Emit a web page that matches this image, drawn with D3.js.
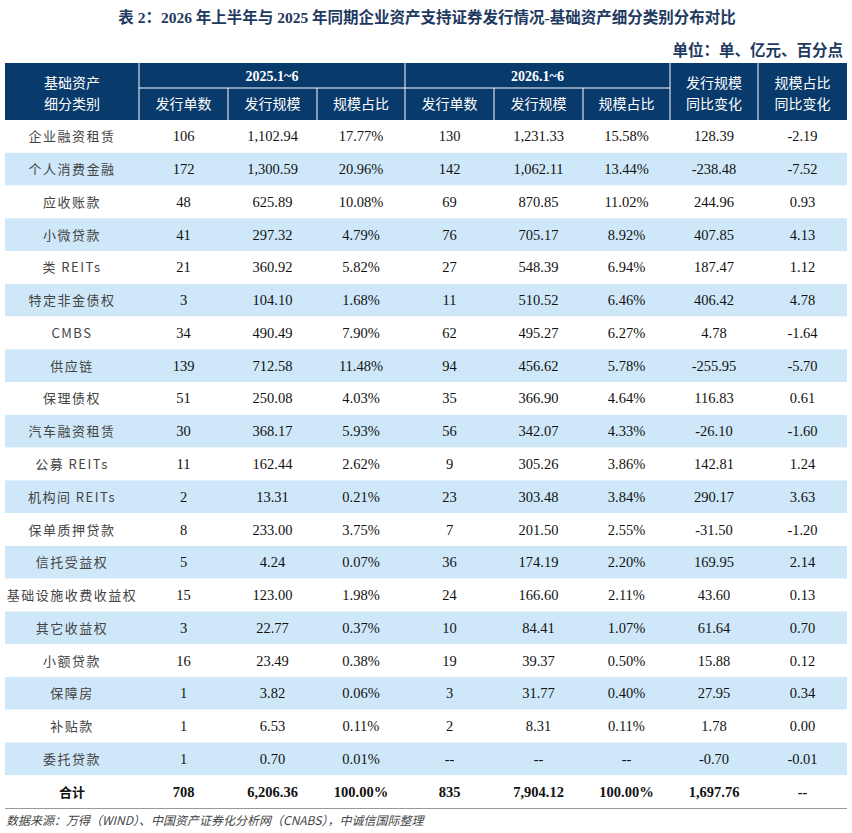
<!DOCTYPE html>
<html>
<head>
<meta charset="utf-8">
<script src="https://cdn.jsdelivr.net/npm/d3@7/dist/d3.min.js"></script>
<style>
  body { margin: 0; background: #fff; }
  text { font-family: "Liberation Serif", "Noto Sans CJK SC", serif; }
  .cjk { font-family: "Noto Sans CJK SC", sans-serif; }
</style>
</head>
<body>
<div id="chart"></div>
<script>
var categories = ["企业融资租赁", "个人消费金融", "应收账款", "小微贷款", "类 REITs", "特定非金债权",
    "CMBS", "供应链", "保理债权", "汽车融资租赁", "公募 REITs", "机构间 REITs", "保单质押贷款",
    "信托受益权", "基础设施收费收益权", "其它收益权", "小额贷款", "保障房", "补贴款", "委托贷款"];

var count2025 = ["106", "172", "48", "41", "21", "3", "34", "139", "51", "30", "11", "2", "8", "5", "15", "3", "16", "1", "1", "1"];
var scale2025 = ["1,102.94", "1,300.59", "625.89", "297.32", "360.92", "104.10", "490.49", "712.58", "250.08", "368.17",
    "162.44", "13.31", "233.00", "4.24", "123.00", "22.77", "23.49", "3.82", "6.53", "0.70"];
var share2025 = ["17.77%", "20.96%", "10.08%", "4.79%", "5.82%", "1.68%", "7.90%", "11.48%", "4.03%", "5.93%",
    "2.62%", "0.21%", "3.75%", "0.07%", "1.98%", "0.37%", "0.38%", "0.06%", "0.11%", "0.01%"];

var count2026 = ["130", "142", "69", "76", "27", "11", "62", "94", "35", "56", "9", "23", "7", "36", "24", "10", "19", "3", "2", "--"];
var scale2026 = ["1,231.33", "1,062.11", "870.85", "705.17", "548.39", "510.52", "495.27", "456.62", "366.90", "342.07",
    "305.26", "303.48", "201.50", "174.19", "166.60", "84.41", "39.37", "31.77", "8.31", "--"];
var share2026 = ["15.58%", "13.44%", "11.02%", "8.92%", "6.94%", "6.46%", "6.27%", "5.78%", "4.64%", "4.33%",
    "3.86%", "3.84%", "2.55%", "2.20%", "2.11%", "1.07%", "0.50%", "0.40%", "0.11%", "--"];

var scaleChange = ["128.39", "-238.48", "244.96", "407.85", "187.47", "406.42", "4.78", "-255.95", "116.83", "-26.10",
    "142.81", "290.17", "-31.50", "169.95", "43.60", "61.64", "15.88", "27.95", "1.78", "-0.70"];
var shareChange = ["-2.19", "-7.52", "0.93", "4.13", "1.12", "4.78", "-1.64", "-5.70", "0.61", "-1.60",
    "1.24", "3.63", "-1.20", "2.14", "0.13", "0.70", "0.12", "0.34", "0.00", "-0.01"];

var totalRow = ["合计", "708", "6,206.36", "100.00%", "835", "7,904.12", "100.00%", "1,697.76", "--"];

var periods = ["2025.1~6", "2026.1~6"];
var subHeaders = ["发行单数", "发行规模", "规模占比"];

var width = 852, height = 833;
var navy = "#083a6b", stripe = "#cfe8f9";

// column edges
var colEdges = [5, 139, 228, 317, 405, 494, 583, 670, 758, 847];

var rows = categories.map(function(c, i) {
    return [c, count2025[i], scale2025[i], share2025[i], count2026[i], scale2026[i], share2026[i], scaleChange[i], shareChange[i]];
});
rows.push(totalRow);

var svg = d3.select("#chart").append("svg")
    .attr("width", width)
    .attr("height", height);

var y = d3.scaleBand()
    .domain(d3.range(rows.length))
    .range([120, 808]);

function colX(i) { return (colEdges[i] + colEdges[i + 1]) / 2; }

// title
svg.append("text")
    .attr("x", 427).attr("y", 23)
    .attr("text-anchor", "middle")
    .attr("font-size", 15.5)
    .attr("font-weight", "bold")
    .attr("fill", "#1f3a5f")
    .text("表 2：2026 年上半年与 2025 年同期企业资产支持证券发行情况-基础资产细分类别分布对比");

svg.append("text")
    .attr("x", 843).attr("y", 56)
    .attr("text-anchor", "end")
    .attr("font-size", 15.5)
    .attr("font-weight", "bold")
    .attr("fill", "#1f3a5f")
    .text("单位：单、亿元、百分点");

// header
var head = svg.append("g");
head.append("rect")
    .attr("x", colEdges[0]).attr("y", 63)
    .attr("width", colEdges[9] - colEdges[0]).attr("height", 57)
    .attr("fill", navy);

// vertical white lines in header
[1, 4, 7, 8].forEach(function(i) {
    head.append("line")
        .attr("x1", colEdges[i]).attr("x2", colEdges[i])
        .attr("y1", 63).attr("y2", 120)
        .attr("stroke", "#fff").attr("stroke-width", 1);
});
[2, 3, 5, 6].forEach(function(i) {
    head.append("line")
        .attr("x1", colEdges[i]).attr("x2", colEdges[i])
        .attr("y1", 88).attr("y2", 120)
        .attr("stroke", "#fff").attr("stroke-width", 1);
});
head.append("line")
    .attr("x1", colEdges[1]).attr("x2", colEdges[7])
    .attr("y1", 88).attr("y2", 88)
    .attr("stroke", "#fff").attr("stroke-width", 1);

periods.forEach(function(p, k) {
    head.append("text")
        .attr("x", (colEdges[1 + k * 3] + colEdges[4 + k * 3]) / 2).attr("y", 81)
        .attr("text-anchor", "middle")
        .attr("font-size", 14)
        .attr("font-weight", "bold")
        .attr("fill", "#fff")
        .text(p);
    subHeaders.forEach(function(s, j) {
        head.append("text")
            .attr("class", "cjk")
            .attr("x", colX(1 + k * 3 + j)).attr("y", 109)
            .attr("text-anchor", "middle")
            .attr("font-size", 14)
            .attr("fill", "#fff")
            .text(s);
    });
});

var twoLine = [[0, "基础资产", "细分类别"], [7, "发行规模", "同比变化"], [8, "规模占比", "同比变化"]];
twoLine.forEach(function(t) {
    head.append("text").attr("class", "cjk")
        .attr("x", colX(t[0])).attr("y", 88)
        .attr("text-anchor", "middle").attr("font-size", 14).attr("fill", "#fff")
        .text(t[1]);
    head.append("text").attr("class", "cjk")
        .attr("x", colX(t[0])).attr("y", 109)
        .attr("text-anchor", "middle").attr("font-size", 14).attr("fill", "#fff")
        .text(t[2]);
});

// body
var body = svg.append("g");
var rowG = body.selectAll(".row")
    .data(rows)
    .enter().append("g")
    .attr("class", "row")
    .attr("transform", function(d, i) { return "translate(0," + y(i) + ")"; });

rowG.append("rect")
    .attr("x", colEdges[0])
    .attr("width", colEdges[9] - colEdges[0])
    .attr("height", y.bandwidth())
    .attr("fill", function(d, i) { return i % 2 === 1 ? stripe : "#fff"; });

rowG.each(function(d, i) {
    var g = d3.select(this);
    var isTotal = i === rows.length - 1;
    d.forEach(function(v, j) {
        g.append("text")
            .attr("class", j === 0 ? "cjk" : null)
            .attr("x", colX(j))
            .attr("y", y.bandwidth() / 2 + 5)
            .attr("text-anchor", "middle")
            .attr("font-size", j === 0 ? 13 : 14.5)
            .attr("font-weight", isTotal ? "bold" : "normal")
            .attr("letter-spacing", j === 0 && !isTotal ? 1.5 : 0)
            .attr("fill", j === 0 && !isTotal ? "#444" : "#111")
            .text(v);
    });
});

svg.append("line")
    .attr("x1", colEdges[0]).attr("x2", colEdges[9])
    .attr("y1", 808.5).attr("y2", 808.5)
    .attr("stroke", "#999").attr("stroke-width", 1);

// source
svg.append("text")
    .attr("class", "cjk")
    .attr("x", 6).attr("y", 825)
    .attr("font-size", 12)
    .attr("font-style", "italic")
    .attr("fill", "#444")
    .text("数据来源：万得（WIND）、中国资产证券化分析网（CNABS），中诚信国际整理");
</script>
</body>
</html>
